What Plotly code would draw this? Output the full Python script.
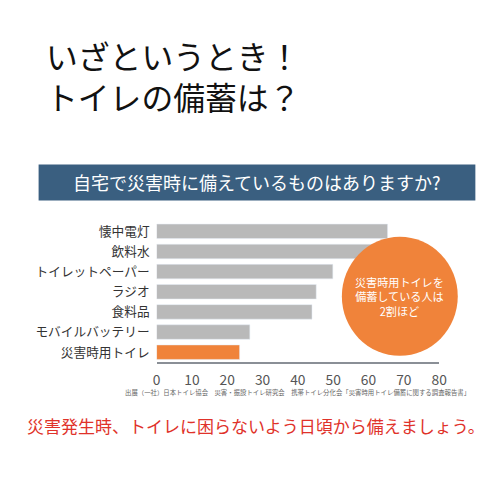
import plotly.graph_objects as go

categories = ["懐中電灯", "飲料水", "トイレットペーパー", "ラジオ", "食料品", "モバイルバッテリー", "災害時用トイレ"]
values = [65.4, 62.2, 49.9, 45.2, 44.0, 26.4, 23.5]
colors = ["#b9b9b9"] * 6 + ["#f0833a"]
tick_vals = [0, 10, 20, 30, 40, 50, 60, 70, 80]

F = "Noto Sans CJK JP"
S = 1.06

def px(x): return ((x - 14.3) / 0.943) / 500
def py(y): return 1 - ((y - 19) / 0.94) / 500
def fs(s): return round(s * S, 1)

fig = go.Figure(go.Bar(x=values, y=categories, orientation="h", marker_color=colors,
                       width=0.72, hoverinfo="skip"))

fig.update_layout(
    width=500, height=500, margin=dict(l=0, r=0, t=0, b=0),
    paper_bgcolor="white", plot_bgcolor="white", showlegend=False,
    font=dict(family=F),
    xaxis=dict(domain=[px(154), px(427)], range=[0, 80], tickvals=tick_vals,
               showgrid=False, zeroline=False, showline=True, linecolor="#8a8f96",
               linewidth=2, ticks="", tickfont=dict(size=fs(13), color="#555"), ticklabelstandoff=4),
    yaxis=dict(domain=[py(352), py(210)], categoryorder="array", categoryarray=categories,
               range=[6.5, -1.0], showgrid=False, zeroline=False, ticks="",
               tickfont=dict(size=fs(12), color="#333"), ticklabelstandoff=6),
    shapes=[
        dict(type="rect", xref="paper", yref="paper", x0=px(40), x1=px(462),
             y0=py(200), y1=py(166), fillcolor="#3a5f80", line_width=0, layer="below"),
        dict(type="circle", xref="paper", yref="paper", x0=px(333), x1=px(445),
             y0=py(346), y1=py(234), fillcolor="#f0833a", line_width=0),
        dict(type="path", xref="paper", yref="paper",
             path=f"M {px(346)} {py(268)} L {px(340)} {py(288)} L {px(360)} {py(280)} Z",
             fillcolor="#f0833a", line_width=0),
    ],
    annotations=[
        dict(xref="paper", yref="paper", x=px(45), y=py(40), xanchor="left", yanchor="top",
             text="いざというとき！<br>トイレの備蓄は？", showarrow=False, align="left",
             font=dict(size=fs(30), color="#111", family=F)),
        dict(xref="paper", yref="paper", x=px(251), y=py(183), xanchor="center", yanchor="middle",
             text="自宅で災害時に備えているものはありますか?", showarrow=False,
             font=dict(size=fs(17), color="white", family=F)),
        dict(xref="paper", yref="paper", x=px(389), y=py(290), xanchor="center", yanchor="middle",
             text="災害時用トイレを<br>備蓄している人は<br>2割ほど", showarrow=False,
             font=dict(size=fs(10.5), color="white", family=F)),
        dict(xref="paper", yref="paper", x=px(290), y=py(380), xanchor="center", yanchor="middle",
             text="出展（一社）日本トイレ協会　災害・振設トイレ研究会　携帯トイレ分化会「災害時用トイレ備蓄に関する調査報告書」",
             showarrow=False, font=dict(size=fs(6), color="#666", family=F)),
        dict(xref="paper", yref="paper", x=px(250), y=py(411), xanchor="center", yanchor="middle",
             text="災害発生時、トイレに困らないよう日頃から備えましょう。", showarrow=False,
             font=dict(size=fs(16), color="#e0322a", family=F)),
    ],
)
fig.write_html("out.html")
